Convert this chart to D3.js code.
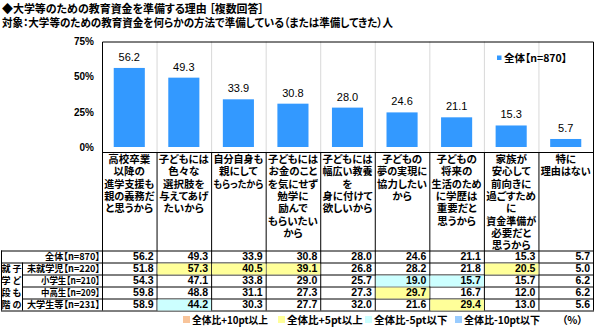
<!DOCTYPE html>
<html><head><meta charset="utf-8">
<script src="https://cdn.jsdelivr.net/npm/d3@7"></script>
<style>
body{margin:0;background:#fff;}
svg{display:block;font-family:"Noto Sans CJK JP","Noto Sans",sans-serif;font-feature-settings:"palt";}
</style></head>
<body><svg id="c" width="600" height="328"></svg>
<script>
const categories = [
  ["高校卒業","以降の","進学支援も","親の義務だ","と思うから"],
  ["子どもには","色々な","選択肢を","与えてあげ","たいから"],
  ["自分自身も","親にして","もらったから"],
  ["子どもには","お金のこと","を気にせず","勉学に","励んで","もらいたい","から"],
  ["子どもには","幅広い教養","を","身に付けて","欲しいから"],
  ["子どもの","夢の実現に","協力したい","から"],
  ["子どもの","将来の","生活のため","に学歴は","重要だと","思うから"],
  ["家族が","安心して","前向きに","過ごすため","に","資金準備が","必要だと","思うから"],
  ["特に","理由はない"]
];
const totalValues = [56.2,49.3,33.9,30.8,28.0,24.6,21.1,15.3,5.7];
const rowLabels = ["全体【n=870】","未就学児【n=220】","小学生【n=210】","中高生【n=209】","大学生等【n=231】"];
const groupLabel = ["就学段階","子どもの"];
const rowValues = [
  [56.2,49.3,33.9,30.8,28.0,24.6,21.1,15.3,5.7],
  [51.8,57.3,40.5,39.1,26.8,28.2,21.8,20.5,5.0],
  [54.3,47.1,33.8,29.0,25.7,19.0,15.7,15.7,6.2],
  [59.8,48.8,31.1,27.3,27.3,29.7,16.7,12.0,6.2],
  [58.9,44.2,30.3,27.7,32.0,21.6,29.4,13.0,5.6]
];
const yTicks = [0,25,50,75];
const legendItems = ["全体比+10pt以上","全体比+5pt以上","全体比-5pt以下","全体比-10pt以下"];
const legendColors = ["#F8C49A","#FFFF99","#CCFFFF","#99CCFF"];
const seriesName = "全体【n=870】";

const svg = d3.select("#c");
const L=102, R=593, T=41.5, B=147, labTop=152, tabTop=250.5, rowH=12;
const x = d3.scaleBand().domain(d3.range(categories.length)).range([L,R]).padding(0);
const y = d3.scaleLinear().domain([0,75]).range([B,T]);
const bw = x.bandwidth()*0.57;

function fit(sel, maxW){
  sel.each(function(){
    const w = this.getComputedTextLength();
    if(w>maxW){ d3.select(this).attr("textLength",maxW).attr("lengthAdjust","spacingAndGlyphs"); }
  });
}

// titles
const t1 = svg.append("text").attr("x",2).attr("y",13).attr("font-size",11.5).attr("font-weight","bold").text("◆大学等のための教育資金を準備する理由 ［複数回答］");
fit(t1,262);
const t2 = svg.append("text").attr("x",2).attr("y",27).attr("font-size",11.5).attr("font-weight","bold").text("対象：大学等のための教育資金を何らかの方法で準備している（または準備してきた）人");
fit(t2,391);

// gridlines
const g = svg.append("g");
g.selectAll("line.grid").data(d3.range(1,categories.length)).join("line")
  .attr("x1",d=>x(d)+0.5).attr("x2",d=>x(d)+0.5).attr("y1",T).attr("y2",labTop)
  .attr("stroke","#d8d8d8").attr("stroke-width",1);

// bars
g.selectAll("rect.bar").data(totalValues).join("rect")
  .attr("x",(d,i)=>x(i)+(x.bandwidth()-bw)/2).attr("width",bw)
  .attr("y",d=>y(d)).attr("height",d=>y(0)-y(d)).attr("fill","#3399FF");
g.selectAll("text.val").data(totalValues).join("text")
  .attr("x",(d,i)=>x(i)+x.bandwidth()/2).attr("y",d=>y(d)-7)
  .attr("text-anchor","middle").attr("font-size",11).attr("font-family","Liberation Sans, Arial, sans-serif")
  .text(d=>d.toFixed(1));

// y axis labels
const ya = d3.axisLeft(y).tickValues(yTicks).tickFormat(d=>d+"%").tickSize(0).tickPadding(8);
const yg = svg.append("g").attr("transform",`translate(${L},0)`).call(ya);
yg.select(".domain").remove();
yg.selectAll("text").attr("font-size",10).attr("font-weight","bold").attr("font-family","Liberation Sans, Arial, sans-serif").attr("fill","#000");

// plot frame
svg.append("path").attr("d",`M${L+0.5},${labTop}V${T+0.5}H${R+0.5}V${labTop}`).attr("fill","none").attr("stroke","#000").attr("stroke-width",1);

// legend top
svg.append("rect").attr("x",497).attr("y",55.5).attr("width",4.5).attr("height",4.5).attr("fill","#3399FF");
svg.append("text").attr("x",504).attr("y",61.5).attr("font-size",10.5).attr("font-weight","bold").text(seriesName);

// category label boxes
const tabBottom = tabTop + rowH*rowLabels.length;
svg.append("line").attr("x1",L).attr("x2",R+1).attr("y1",labTop+0.5).attr("y2",labTop+0.5).attr("stroke","#000");
svg.selectAll("line.col").data(d3.range(0,categories.length+1)).join("line")
  .attr("x1",d=>(d<categories.length?x(d):R)+0.5).attr("x2",d=>(d<categories.length?x(d):R)+0.5)
  .attr("y1",labTop).attr("y2",tabBottom).attr("stroke","#000");
categories.forEach((lines,i)=>{
  const t = svg.append("text").attr("text-anchor","middle").attr("font-size",10.5).attr("font-weight","bold");
  lines.forEach((ln,j)=>{
    const ts = t.append("tspan").attr("x",x(i)+x.bandwidth()/2).attr("y",163+j*12.3).text(ln);
    fit(ts,50);
  });
});

// table
const tg = svg.append("g");
tg.append("line").attr("x1",1).attr("x2",R+1).attr("y1",tabTop+0.5).attr("y2",tabTop+0.5).attr("stroke","#000");
tg.append("line").attr("x1",1).attr("x2",R+1).attr("y1",tabTop+rowH+0.5).attr("y2",tabTop+rowH+0.5).attr("stroke","#000");
for(let r=2;r<rowLabels.length;r++){
  tg.append("line").attr("x1",22).attr("x2",R+1).attr("y1",tabTop+rowH*r+0.5).attr("y2",tabTop+rowH*r+0.5).attr("stroke","#000");
}
tg.append("line").attr("x1",1).attr("x2",R+1).attr("y1",tabBottom+0.5).attr("y2",tabBottom+0.5).attr("stroke","#000");
tg.append("line").attr("x1",1.5).attr("x2",1.5).attr("y1",tabTop).attr("y2",tabBottom).attr("stroke","#000");
tg.append("line").attr("x1",22.5).attr("x2",22.5).attr("y1",tabTop+rowH).attr("y2",tabBottom).attr("stroke","#000");

// highlight cells
rowValues.forEach((row,r)=>{
  if(r===0) return;
  row.forEach((v,c)=>{
    const diff = v - totalValues[c];
    let col=null;
    if(diff>=10) col=legendColors[0]; else if(diff>=5) col=legendColors[1];
    else if(diff<=-10) col=legendColors[3]; else if(diff<=-5) col=legendColors[2];
    if(col) tg.append("rect").attr("x",x(c)+1).attr("y",tabTop+rowH*r+1).attr("width",x.bandwidth()-1).attr("height",rowH-1).attr("fill",col);
  });
});
// values: one text per column, tspans per row
categories.forEach((_,c)=>{
  const t = tg.append("text").attr("text-anchor","end").attr("font-size",10.5).attr("font-weight","bold")
    .attr("font-family","Liberation Sans, Arial, sans-serif");
  rowValues.forEach((row,r)=>{
    t.append("tspan").attr("x",x(c)+x.bandwidth()-3).attr("y",tabTop+rowH*r+rowH/2+3.8).text(row[c].toFixed(1));
  });
});
// row labels
const rlW = [55,73,59,59,73];
const rl = tg.append("text").attr("text-anchor","end").attr("font-size",9.5).attr("font-weight","bold");
rowLabels.forEach((lb,r)=>{
  const ts = rl.append("tspan").attr("x",100).attr("y",tabTop+rowH*r+rowH/2+3.8).text(lb);
  fit(ts, rlW[r]);
});
// group label vertical
groupLabel.forEach((s,k)=>{
  const t = tg.append("text").attr("text-anchor","middle").attr("font-size",9).attr("font-weight","bold");
  Array.from(s).forEach((ch,j)=>{
    t.append("tspan").attr("x",k===0?6:17).attr("y",tabTop+rowH*(j+1)+rowH/2+3.5).text(ch);
  });
});

// bottom legend
const lx=[183,278,365,455];
legendItems.forEach((t,i)=>{
  svg.append("rect").attr("x",lx[i]).attr("y",316).attr("width",7).attr("height",7).attr("fill",legendColors[i]);
  const tt = svg.append("text").attr("x",lx[i]+9).attr("y",324).attr("font-size",10.5).attr("font-weight","bold").text(t);
  fit(tt, 76);
});
svg.append("text").attr("x",562).attr("y",324).attr("font-size",10.5).attr("font-weight","bold").text("（%）");
</script></body></html>
